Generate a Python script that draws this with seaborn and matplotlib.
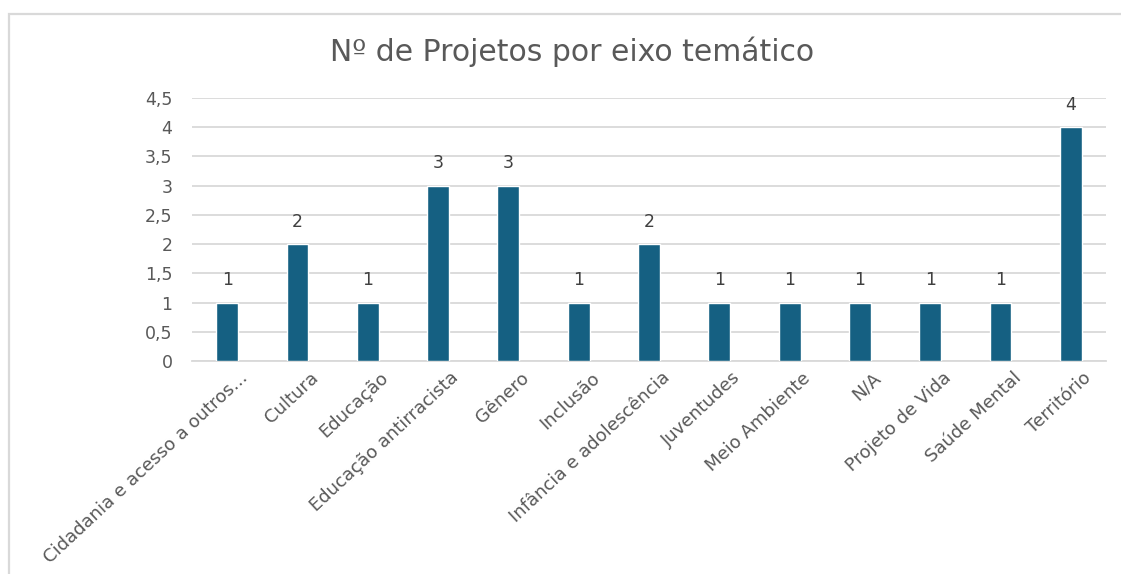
import matplotlib
matplotlib.use("Agg")
import matplotlib.pyplot as plt
import matplotlib.patches as mpatches
import matplotlib.transforms as mtransforms
import pandas as pd
import seaborn as sns

# ── Data ────────────────────────────────────────────────────────────────
categories = [
    "Cidadania e acesso a outros...",
    "Cultura",
    "Educação",
    "Educação antirracista",
    "Gênero",
    "Inclusão",
    "Infância e adolescência",
    "Juventudes",
    "Meio Ambiente",
    "N/A",
    "Projeto de Vida",
    "Saúde Mental",
    "Território",
]
projects = [1, 2, 1, 3, 3, 1, 2, 1, 1, 1, 1, 1, 4]
y_ticks = [0, 0.5, 1, 1.5, 2, 2.5, 3, 3.5, 4, 4.5]

BAR_COLOR = "#156082"
TEXT_COLOR = "#595959"
GRID_COLOR = "#d9d9d9"

sns.set_style("white")
plt.rcParams["font.family"] = ["DejaVu Sans"]

df = pd.DataFrame({"Eixo": categories, "Projetos": projects})

fig = plt.figure(figsize=(11.21, 5.74), dpi=100)
ax = fig.add_axes([192 / 1121, 1 - 361 / 574, (1106 - 192) / 1121, (361 - 98) / 574])

# chart frame (light grey border, cropped at right/bottom)
fig.patches.append(mpatches.Rectangle(
    (9 / 1121, -0.05), 1.2, 1 - 14 / 574 + 0.05,
    transform=fig.transFigure, fill=False, edgecolor="#d9d9d9", linewidth=1.6))

sns.barplot(data=df, x="Eixo", y="Projetos", color=BAR_COLOR, width=0.31,
            saturation=1, ax=ax, zorder=3)

for i, v in enumerate(projects):
    ax.annotate(f"{v}", (i, v), xytext=(0, 16), textcoords="offset points",
                ha="center", va="center", fontsize=12.5, color="#404040")

ax.set_ylim(0, 4.5)
ax.set_xlim(-0.5, len(categories) - 0.5)
ax.set_yticks(y_ticks)
ax.set_yticklabels([f"{t:g}".replace(".", ",") for t in y_ticks],
                   fontsize=12.5, color=TEXT_COLOR)
ax.tick_params(axis="y", length=0, pad=14)
ax.tick_params(axis="x", length=0, pad=2)
ax.set_xticks(range(len(categories)))
ax.set_xticklabels(categories, rotation=43, ha="right", rotation_mode="anchor",
                   fontsize=13, color=TEXT_COLOR)
offset = mtransforms.ScaledTranslation(12 / 100, -5 / 100, fig.dpi_scale_trans)
for lbl in ax.get_xticklabels():
    lbl.set_transform(lbl.get_transform() + offset)

ax.grid(axis="y", color=GRID_COLOR, linewidth=1.3, zorder=0)
ax.set_axisbelow(True)
for s in ["top", "right", "left"]:
    ax.spines[s].set_visible(False)
ax.spines["bottom"].set_color(GRID_COLOR)
ax.spines["bottom"].set_linewidth(1.3)
ax.set_xlabel("")
ax.set_ylabel("")

fig.text(572 / 1121, 1 - 52 / 574, "Nº de Projetos por eixo temático",
         ha="center", va="center", fontsize=21.5, color=TEXT_COLOR)

fig.savefig("out.png", dpi=100)
